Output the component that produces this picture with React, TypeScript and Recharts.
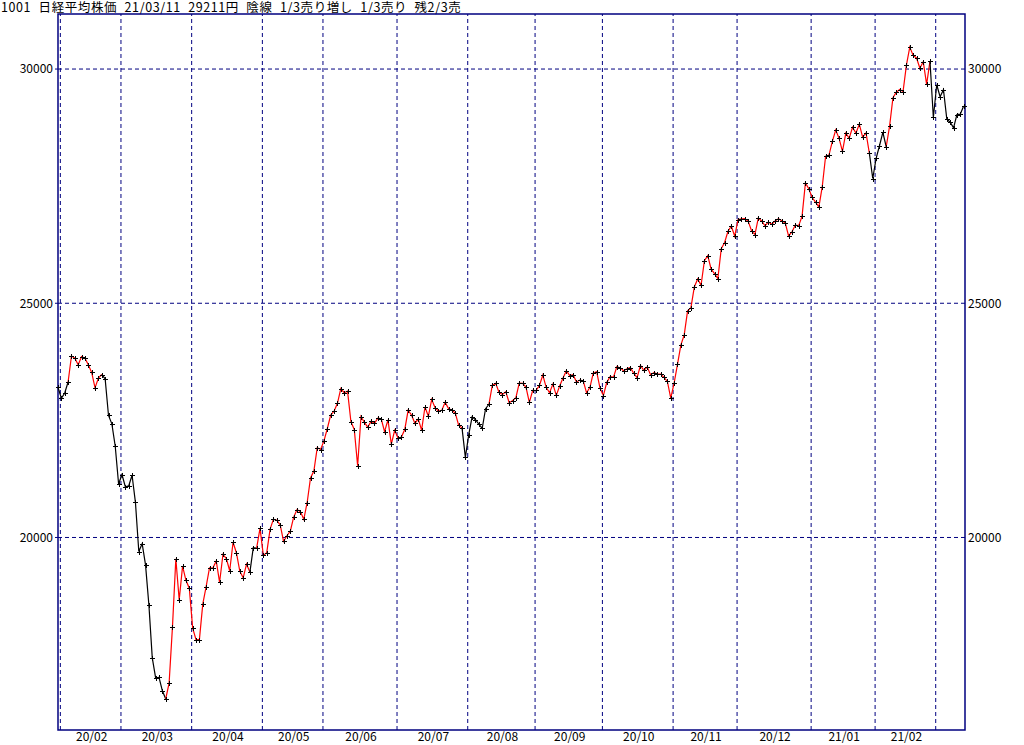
import { LineChart, Line, XAxis, YAxis, ReferenceLine, ReferenceArea } from "recharts";

const title = "1001 日経平均株価 21/03/11 29211円 陰線 1/3売り増し 1/3売り 残2/3売";

const monthKeys = [
  "20/01", "20/02", "20/03", "20/04", "20/05", "20/06", "20/07", "20/08",
  "20/09", "20/10", "20/11", "20/12", "21/01", "21/02", "21/03",
];

const tradingDays = [
  [31],
  [3, 4, 5, 6, 7, 10, 12, 13, 14, 17, 18, 19, 20, 21, 25, 26, 27, 28],
  [2, 3, 4, 5, 6, 9, 10, 11, 12, 13, 16, 17, 18, 19, 23, 24, 25, 26, 27, 30, 31],
  [1, 2, 3, 6, 7, 8, 9, 10, 13, 14, 15, 16, 17, 20, 21, 22, 23, 24, 27, 28, 30],
  [1, 7, 8, 11, 12, 13, 14, 15, 18, 19, 20, 21, 22, 25, 26, 27, 28, 29],
  [1, 2, 3, 4, 5, 8, 9, 10, 11, 12, 15, 16, 17, 18, 19, 22, 23, 24, 25, 26, 29, 30],
  [1, 2, 3, 6, 7, 8, 9, 10, 13, 14, 15, 16, 17, 20, 21, 22, 27, 28, 29, 30, 31],
  [3, 4, 5, 6, 7, 11, 12, 13, 14, 17, 18, 19, 20, 21, 24, 25, 26, 27, 28, 31],
  [1, 2, 3, 4, 7, 8, 9, 10, 11, 14, 15, 16, 17, 18, 23, 24, 25, 28, 29, 30],
  [2, 5, 6, 7, 8, 9, 12, 13, 14, 15, 16, 19, 20, 21, 22, 23, 26, 27, 28, 29, 30],
  [2, 4, 5, 6, 9, 10, 11, 12, 13, 16, 17, 18, 19, 20, 24, 25, 26, 27, 30],
  [1, 2, 3, 4, 7, 8, 9, 10, 11, 14, 15, 16, 17, 18, 21, 22, 23, 24, 25, 28, 29, 30],
  [4, 5, 6, 7, 8, 12, 13, 14, 15, 18, 19, 20, 21, 22, 25, 26, 27, 28, 29],
  [1, 2, 3, 4, 5, 8, 9, 10, 12, 15, 16, 17, 18, 19, 22, 24, 25, 26],
  [1, 2, 3, 4, 5, 8, 9, 10, 11],
];

// daily closes, same order as tradingDays
const closes = [
  23205,
  22972, 23085, 23320, 23874, 23828, 23686, 23861, 23828, 23688, 23523, 23194, 23401, 23479, 23387, 22605, 22426, 21948, 21143,
  21344, 21083, 21100, 21329, 20750, 19699, 19867, 19416, 18560, 17431, 17002, 17012, 16727, 16553, 16888, 18092, 19547, 18665, 19389, 19085, 18917,
  18065, 17819, 17820, 18576, 18950, 19353, 19346, 19499, 19043, 19639, 19550, 19290, 19897, 19669, 19281, 19138, 19429, 19262, 19783, 19771, 20194,
  19619, 19675, 20179, 20391, 20366, 20267, 19915, 20037, 20134, 20433, 20595, 20552, 20388, 20742, 21271, 21419, 21916, 21878,
  22062, 22326, 22614, 22696, 22864, 23178, 23091, 23125, 22473, 22305, 21531, 22582, 22456, 22355, 22479, 22437, 22549, 22534, 22260, 22512, 21995, 22288,
  22122, 22146, 22306, 22714, 22615, 22439, 22529, 22291, 22785, 22587, 22946, 22770, 22696, 22717, 22884, 22752, 22716, 22657, 22397, 22339, 21710,
  22195, 22574, 22515, 22418, 22330, 22750, 22844, 23250, 23289, 23097, 23051, 23111, 22881, 22920, 22986, 23297, 23291, 23209, 22883, 23140,
  23138, 23247, 23466, 23205, 23090, 23274, 23033, 23235, 23406, 23559, 23455, 23476, 23319, 23360, 23346, 23088, 23205, 23512, 23539, 23185,
  23030, 23312, 23434, 23423, 23647, 23620, 23559, 23602, 23627, 23507, 23411, 23671, 23567, 23639, 23474, 23517, 23494, 23486, 23419, 23332, 22977,
  23295, 23695, 24105, 24325, 24839, 24905, 25349, 25520, 25385, 25907, 26014, 25728, 25634, 25527, 26165, 26297, 26537, 26645, 26433,
  26788, 26801, 26809, 26751, 26547, 26467, 26817, 26756, 26653, 26733, 26687, 26757, 26806, 26763, 26715, 26436, 26524, 26669, 26657, 26854, 27568, 27445,
  27258, 27158, 27056, 27491, 28139, 28164, 28457, 28699, 28520, 28242, 28634, 28523, 28757, 28631, 28822, 28546, 28636, 28198, 27663,
  28092, 28362, 28647, 28341, 28780, 29388, 29506, 29563, 29520, 30085, 30468, 30292, 30236, 30018, 30156, 29672, 30168, 28966,
  29664, 29409, 29560, 28930, 28864, 28744, 29028, 29036, 29211,
];

// periods drawn in black (sell side), the rest is red
const sellRuns = [
  ["20/01/31", "20/02/05"],
  ["20/02/20", "20/03/19"],
  ["20/04/24", "20/04/28"],
  ["20/07/30", "20/08/12"],
  ["21/01/28", "21/02/04"],
  ["21/02/25", "21/03/11"],
];

const yTicks = [20000, 25000, 30000];

const NAVY = "#000080";
const FONT = "'Noto Sans CJK JP', 'Noto Sans', sans-serif";
const Y_DOMAIN: [number, number] = [15890, 31175];
const X_MAX = 269.4;

const dates = monthKeys.flatMap((m, k) =>
  tradingDays[k].map((d) => `${m}/${String(d).padStart(2, "0")}`)
);
const data = dates.map((date, i) => ({ i, date, close: closes[i] }));

const inSell = dates.map((d) => sellRuns.some(([a, b]) => d >= a && d <= b));

type Run = { start: number; end: number; color: string };
const runs: Run[] = [];
for (let i = 1; i < data.length; i++) {
  const color = inSell[i - 1] && inSell[i] ? "#000000" : "#ff0000";
  const last = runs[runs.length - 1];
  if (last && last.color === color && last.end === i - 1) last.end = i;
  else runs.push({ start: i - 1, end: i, color });
}

const monthStarts = monthKeys.map((m) => dates.findIndex((d) => d.startsWith(m)));
const gridX = monthStarts.slice(1);
const labelTicks = monthStarts.slice(1, -1).map((s, k) => (s + monthStarts[k + 2]) / 2);
const labelText = monthKeys.slice(1, -1);

const Cross = (props: any) => {
  const { cx, cy, index } = props;
  if (cx == null || cy == null) return <g key={`c${index}`} />;
  const x = Math.round(cx) + 0.5;
  const y = Math.round(cy) + 0.5;
  return (
    <path
      key={`c${index}`}
      d={`M${x - 2.5},${y}H${x + 2.5}M${x},${y - 2.5}V${y + 2.5}`}
      stroke="#000"
      strokeWidth={1}
    />
  );
};

const tickStyle = { fill: "#000", fontSize: 12, fontFamily: FONT };

export default function App() {
  return (
    <div style={{ position: "absolute", left: 0, top: 0, width: 1024, height: 745, background: "#fff" }}>
      <div
        style={{
          position: "absolute",
          left: 1,
          top: 0,
          fontFamily: FONT,
          fontSize: 12.5,
          lineHeight: "14px",
          letterSpacing: 0.6,
          wordSpacing: 4,
          whiteSpace: "pre",
          color: "#000",
        }}
      >
        {title}
      </div>
      <LineChart
        width={1024}
        height={745}
        data={data}
        margin={{ top: 14, right: 0, bottom: 0, left: 0 }}
      >
        <XAxis
          type="number"
          dataKey="i"
          domain={[0, X_MAX]}
          ticks={labelTicks}
          interval={0}
          tickFormatter={(v: number) => labelText[labelTicks.indexOf(v)] ?? ""}
          axisLine={false}
          tickLine={false}
          tickSize={1}
          tickMargin={1}
          height={15}
          tick={tickStyle}
        />
        <YAxis
          yAxisId="left"
          orientation="left"
          domain={Y_DOMAIN}
          ticks={yTicks}
          width={58}
          axisLine={false}
          tickLine={{ stroke: NAVY }}
          tickSize={3}
          tickMargin={2}
          tick={tickStyle}
          allowDataOverflow
        />
        <YAxis
          yAxisId="right"
          orientation="right"
          domain={Y_DOMAIN}
          ticks={yTicks}
          width={59}
          axisLine={false}
          tickLine={false}
          tickSize={1}
          tickMargin={2}
          tick={{ ...tickStyle, textAnchor: "start" }}
          allowDataOverflow
        />
        {yTicks.map((v) => (
          <ReferenceLine key={`h${v}`} yAxisId="left" y={v} stroke={NAVY} strokeDasharray="4 3" />
        ))}
        {gridX.map((s) => (
          <ReferenceLine key={`v${s}`} yAxisId="left" x={s - 0.3} stroke={NAVY} strokeDasharray="4 3" />
        ))}
        {runs.map((r, k) => (
          <Line
            key={`run${k}`}
            yAxisId="left"
            type="linear"
            dataKey={(d: any) => (d.i >= r.start && d.i <= r.end ? d.close : null)}
            stroke={r.color}
            strokeWidth={1.2}
            dot={false}
            activeDot={false}
            connectNulls={false}
            isAnimationActive={false}
          />
        ))}
        <Line
          yAxisId="right"
          type="linear"
          dataKey="close"
          stroke="none"
          dot={Cross}
          activeDot={false}
          isAnimationActive={false}
        />
        <ReferenceArea
          yAxisId="left"
          x1={0}
          x2={X_MAX}
          y1={Y_DOMAIN[0]}
          y2={Y_DOMAIN[1]}
          fill="none"
          stroke={NAVY}
          strokeWidth={1.5}
        />
      </LineChart>
    </div>
  );
}
